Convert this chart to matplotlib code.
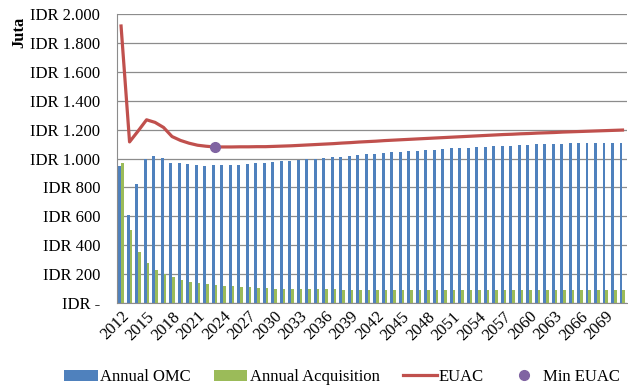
import numpy as np
import matplotlib
matplotlib.use("Agg")
import matplotlib.pyplot as plt
from matplotlib.ticker import FuncFormatter, MultipleLocator

YEARS = list(range(2012, 2072))

ANNUAL_OMC = [
    950, 607, 825, 995, 1015, 1005, 968, 966, 960, 955,
    948, 953, 953, 953, 958, 965, 966, 972, 977, 982,
    986, 992, 996, 998, 1003, 1008, 1013, 1020, 1026, 1028,
    1033, 1040, 1043, 1048, 1053, 1055, 1060, 1062, 1066, 1070,
    1073, 1076, 1079, 1082, 1085, 1088, 1090, 1093, 1096, 1098,
    1100, 1101, 1103, 1104, 1106, 1107, 1108, 1109, 1110, 1110,
]

ANNUAL_ACQUISITION = [
    970, 503, 350, 276, 228, 198, 179, 160, 147, 138,
    131, 126, 120, 115, 111, 108, 105, 103, 100, 99,
    98, 97, 96, 95, 94, 94, 93, 93, 92, 92,
    92, 91, 91, 91, 90, 90, 90, 90, 90, 89,
    89, 89, 89, 89, 89, 89, 89, 89, 88, 88,
    88, 88, 88, 88, 88, 88, 88, 88, 88, 88,
]

EUAC = [
    1917, 1115, 1190, 1268, 1250, 1215, 1152, 1125, 1106, 1092,
    1085, 1080, 1080, 1080, 1081, 1081, 1082, 1082, 1084, 1086,
    1088, 1091, 1094, 1097, 1100, 1103, 1107, 1110, 1114, 1117,
    1120, 1124, 1127, 1130, 1133, 1136, 1139, 1142, 1145, 1148,
    1151, 1154, 1157, 1160, 1163, 1166, 1168, 1171, 1173, 1176,
    1178, 1180, 1183, 1185, 1187, 1189, 1191, 1193, 1195, 1197,
]

MIN_YEAR = 2023

BLUE = "#4F81BD"
GREEN = "#9BBB59"
RED = "#C0504D"
PURPLE = "#8064A2"
GRID = "#8C8C8C"

plt.rcParams["font.family"] = ["Liberation Serif", "DejaVu Serif"]


def idr_label(v, _pos):
    if v == 0:
        return "IDR -"
    return "IDR " + format(int(v), ",").replace(",", ".")


fig = plt.figure(figsize=(6.28, 3.89), dpi=100)
ax = fig.add_axes([0.186, 0.221, 0.812, 0.743])

x = np.arange(len(YEARS))
w = 0.32
b1 = ax.bar(x - w / 2, ANNUAL_OMC, width=w, color=BLUE, label="Annual OMC", zorder=2)
b2 = ax.bar(x + w / 2, ANNUAL_ACQUISITION, width=w, color=GREEN,
            label="Annual Acquisition", zorder=2)
l1, = ax.plot(x, EUAC, color=RED, lw=2.3, label="EUAC", zorder=3)

i_min = YEARS.index(MIN_YEAR)
m1, = ax.plot([x[i_min]], [EUAC[i_min]], "o", color=PURPLE, ms=7, ls="none",
              label="Min EUAC", zorder=4)

ax.set_xlim(-0.5, len(YEARS) - 0.5)
ax.set_ylim(0, 2000)
ax.yaxis.set_major_locator(MultipleLocator(200))
ax.yaxis.set_major_formatter(FuncFormatter(idr_label))
ax.grid(axis="y", color=GRID, lw=0.9, zorder=0)

ticks = x[::3]
ax.set_xticks(ticks)
ax.set_xticklabels([str(YEARS[i]) for i in ticks], rotation=45,
                   ha="right", va="top", rotation_mode="anchor")
ax.tick_params(axis="x", length=0, labelsize=12, pad=4)
ax.tick_params(axis="y", length=0, labelsize=12, pad=12)

for side in ("top", "right"):
    ax.spines[side].set_visible(False)
for side in ("left", "bottom"):
    ax.spines[side].set_color(GRID)

fig.text(0.030, 0.918, "Juta", rotation=90, fontsize=12, fontweight="bold",
         ha="center", va="center")

fig.legend([b1, b2, l1, m1], ["Annual OMC", "Annual Acquisition", "EUAC", "Min EUAC"],
           loc="center", bbox_to_anchor=(0.545, 0.03), ncol=4,
           frameon=False, fontsize=12, handlelength=2.0, columnspacing=1.4,
           handletextpad=0.15, borderaxespad=0.0)

fig.savefig("out.png", dpi=100)
